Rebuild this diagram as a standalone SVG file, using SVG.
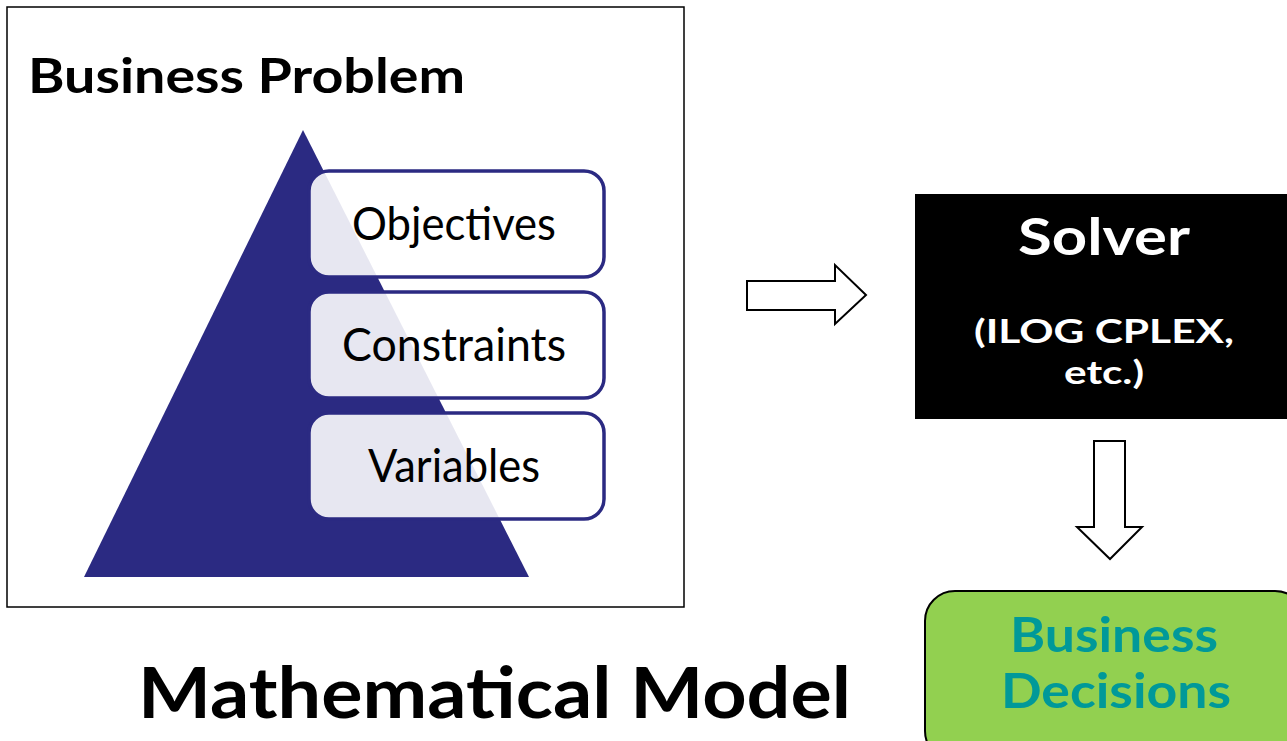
<svg xmlns="http://www.w3.org/2000/svg" width="1287" height="741" viewBox="0 0 1287 741">
<style>
.t{font-family:Lato,"Open Sans","Liberation Sans",sans-serif}
.b{font-weight:bold}
.lvl{fill:#ffffff;fill-opacity:0.89;stroke:#2b2a82;stroke-width:3.5}
.lt{font-size:47px;fill:#000;text-anchor:middle}
.arr{fill:#fff;stroke:#000;stroke-width:2}
</style>
<rect width="1287" height="741" fill="#fff"/>
<g id="business-problem">
<rect x="7" y="7" width="677" height="600" fill="#fff" stroke="#000" stroke-width="1.5"/>
<text class="t b" x="28" y="93" font-size="47" textLength="437" lengthAdjust="spacingAndGlyphs">Business Problem</text>
<polygon points="303,130 84,577 529,577" fill="#2b2a82"/>
</g>
<g id="objectives">
<rect class="lvl" x="309" y="171" width="295" height="106" rx="20"/>
<text class="t lt" x="454" y="240" textLength="204" lengthAdjust="spacingAndGlyphs">Objectives</text>
</g>
<g id="constraints">
<rect class="lvl" x="309" y="292" width="295" height="106" rx="20"/>
<text class="t lt" x="454" y="361" textLength="224" lengthAdjust="spacingAndGlyphs">Constraints</text>
</g>
<g id="variables">
<rect class="lvl" x="309" y="413" width="295" height="106" rx="20"/>
<text class="t lt" x="454" y="482" textLength="172" lengthAdjust="spacingAndGlyphs">Variables</text>
</g>
<g id="solver">
<rect x="915" y="194" width="372" height="225" fill="#000"/>
<text class="t b" x="1104" y="255" font-size="52" fill="#fff" text-anchor="middle" textLength="172" lengthAdjust="spacingAndGlyphs">Solver</text>
<text class="t b" x="1104" y="343" font-size="33" fill="#fff" text-anchor="middle" textLength="260" lengthAdjust="spacingAndGlyphs">(ILOG CPLEX,</text>
<text class="t b" x="1104" y="384" font-size="33" fill="#fff" text-anchor="middle" textLength="80" lengthAdjust="spacingAndGlyphs">etc.)</text>
</g>
<g id="business-decisions">
<rect x="925" y="591" width="380" height="170" rx="30" fill="#92d050" stroke="#000" stroke-width="2"/>
<text class="t b" x="1114" y="652" font-size="47" fill="#009999" text-anchor="middle" textLength="208" lengthAdjust="spacingAndGlyphs">Business</text>
<text class="t b" x="1116" y="708" font-size="47" fill="#009999" text-anchor="middle" textLength="230" lengthAdjust="spacingAndGlyphs">Decisions</text>
</g>
<g id="mathematical-model">
<text class="t b" x="138" y="718" font-size="70" fill="#000" textLength="713" lengthAdjust="spacingAndGlyphs">Mathematical Model</text>
</g>
<g id="connectors">
<polygon class="arr" points="747,281 835,281 835,265 866,295 835,324 835,310 747,310"/>
<polygon class="arr" points="1094,441 1125,441 1125,527 1142,527 1110,559 1077,527 1094,527"/>
</g>
</svg>
